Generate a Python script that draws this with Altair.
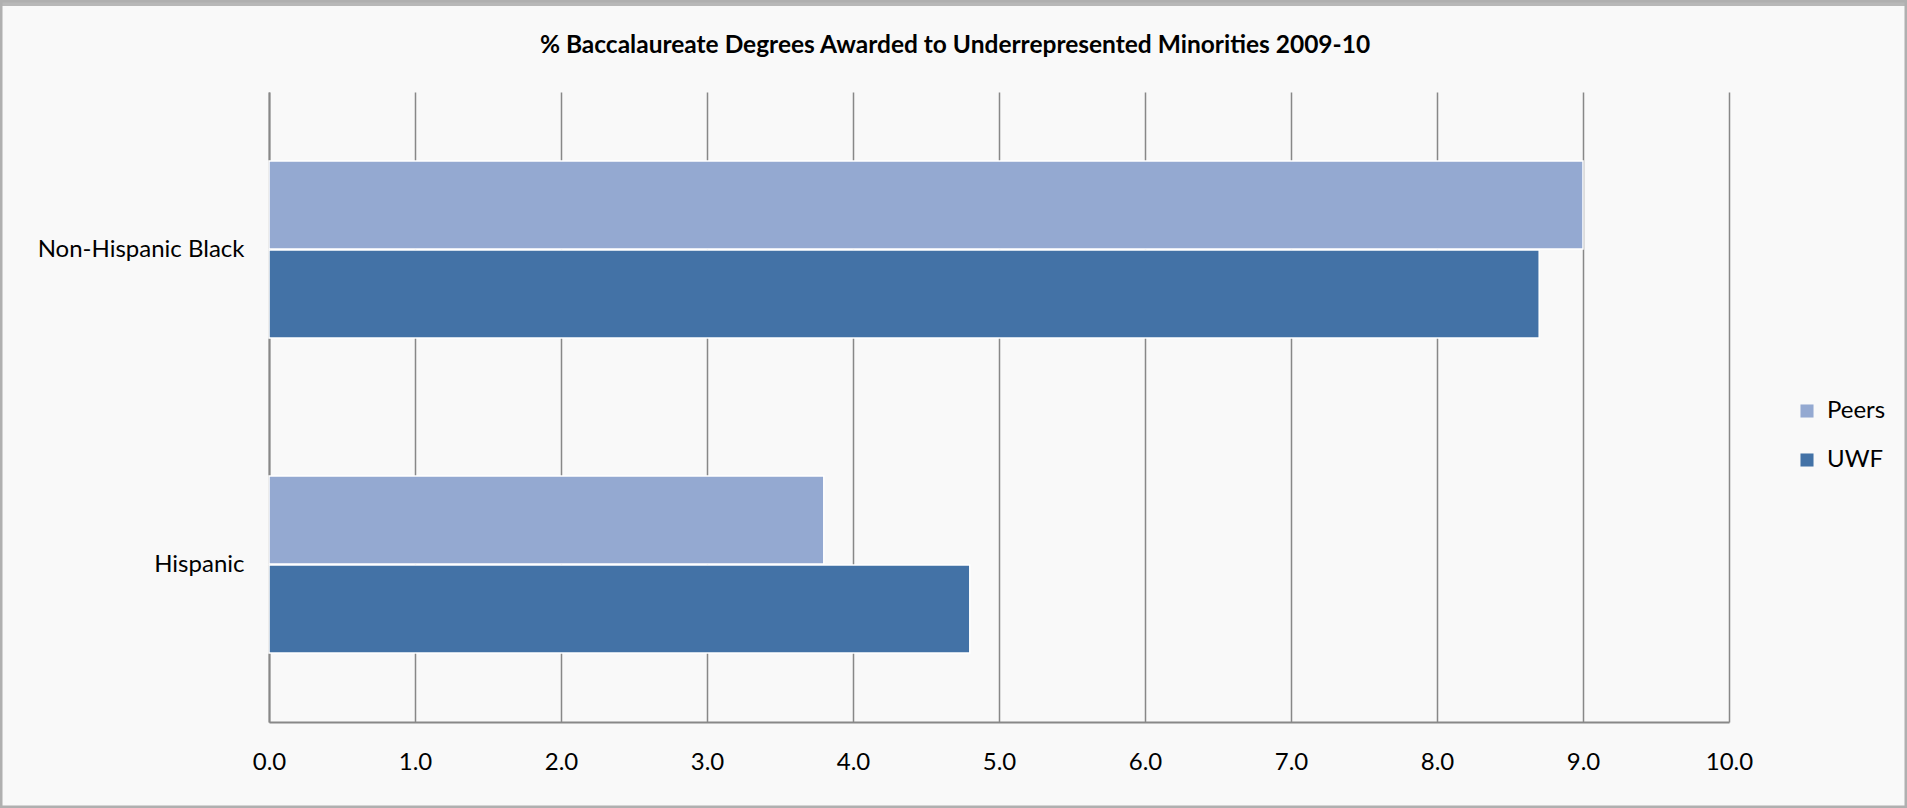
import altair as alt
import pandas as pd

categories = ["Non-Hispanic Black", "Hispanic"]
series = ["Peers", "UWF"]
peers = [9.0, 3.8]
uwf = [8.7, 4.8]
x_ticks = [0, 1, 2, 3, 4, 5, 6, 7, 8, 9, 10]
colors = ["#94a9d1", "#4372a6"]
title_text = "% Baccalaureate Degrees Awarded to Underrepresented Minorities 2009-10"

rows = []
for c, p, u in zip(categories, peers, uwf):
    rows.append({"group": c, "series": "Peers", "value": p})
    rows.append({"group": c, "series": "UWF", "value": u})
df = pd.DataFrame(rows)

FONT = "Lato"
W, H = 1460, 630
PL, PT = 269, 92
TOTAL_W, TOTAL_H = 1907, 808

frame_df = pd.DataFrame({"k": [0]})
title_df = pd.DataFrame({"t": [title_text]})

frame = alt.Chart(frame_df).mark_rect(
    fillOpacity=0, stroke="#b0b0b0", strokeWidth=3
).encode(
    x=alt.value(-PL + 1), x2=alt.value(TOTAL_W - PL - 1),
    y=alt.value(-PT + 1), y2=alt.value(TOTAL_H - PT - 1),
)
top_band = alt.Chart(frame_df).mark_rect(fill="#b8b8b8").encode(
    x=alt.value(-PL), x2=alt.value(TOTAL_W - PL),
    y=alt.value(-PT), y2=alt.value(-PT + 6),
)
title = alt.Chart(title_df).mark_text(
    font=FONT, fontSize=24.5, fontWeight="bold", color="black",
    align="center", baseline="middle",
).encode(
    text="t:N", x=alt.value(955 - PL), y=alt.value(46 - PT),
)

bars = alt.Chart(df).mark_bar(stroke="white", strokeWidth=1.5).encode(
    x=alt.X(
        "value:Q",
        scale=alt.Scale(domain=[0, 10], nice=False, zero=True),
        axis=alt.Axis(
            values=x_ticks, format=".1f", title=None, grid=True,
            gridColor="#888888", gridWidth=1.5, domainColor="#888888",
            domainWidth=2, ticks=False, labelFontSize=24, labelPadding=28,
            labelColor="black", labelFont=FONT, labelFlush=False,
        ),
    ),
    y=alt.Y(
        "group:N", sort=categories,
        scale=alt.Scale(paddingInner=0.438, paddingOuter=0.219),
        axis=alt.Axis(
            title=None, ticks=False, domainColor="#888888", domainWidth=2,
            labelFontSize=24, labelPadding=25, labelColor="black",
            labelFont=FONT, labelLimit=0,
        ),
    ),
    yOffset=alt.YOffset("series:N", sort=series, scale=alt.Scale(paddingInner=0.01)),
    color=alt.Color(
        "series:N", sort=series,
        scale=alt.Scale(domain=series, range=colors),
        legend=alt.Legend(
            title=None, orient="none", legendX=1526, legendY=307,
            symbolType="square", symbolSize=170, symbolStrokeWidth=0,
            labelFontSize=24, labelFont=FONT, labelColor="black",
            rowPadding=25, labelOffset=8,
        ),
    ),
)

chart = alt.layer(top_band, frame, title, bars).properties(
    width=W, height=H,
    background="#f9f9f9",
    padding={"left": PL, "top": PT, "right": TOTAL_W - PL - W, "bottom": TOTAL_H - PT - H},
    autosize=alt.AutoSizeParams(type="none"),
).configure_view(stroke=None)

chart.save("out.html", embed_options={"renderer": "svg", "actions": False})
